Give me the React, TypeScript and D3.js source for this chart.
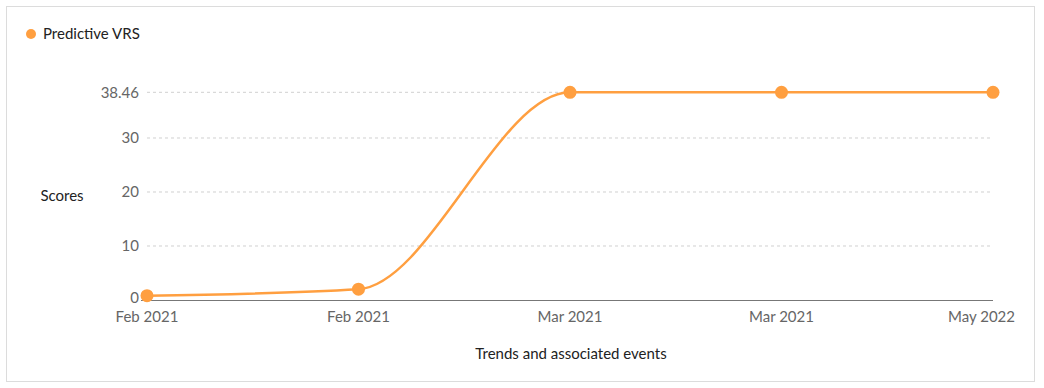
import React, { useEffect, useRef } from 'react';
import * as d3 from 'd3';

const labels = ['Feb 2021', 'Feb 2021', 'Mar 2021', 'Mar 2021', 'May 2022'];
const scores = [0.8, 2.0, 38.46, 38.46, 38.46];
const yTicks = [0, 10, 20, 30, 38.46];
const seriesName = 'Predictive VRS';

const ORANGE = '#ff9f40';

const App: React.FC = () => {
    const svgRef = useRef<SVGSVGElement>(null);

    useEffect(() => {
        if (!svgRef.current) return;
        const svg = d3.select(svgRef.current);
        svg.selectAll('*').remove();

        const width = 1044;
        const height = 388;
        const font = 'Lato, "Open Sans", sans-serif';

        // Card border
        svg.append('rect')
            .attr('x', 6.5).attr('y', 6.5)
            .attr('width', 1028).attr('height', 375)
            .attr('fill', '#fff')
            .attr('stroke', '#dcdcdc');

        const x = d3.scalePoint<number>()
            .domain(d3.range(labels.length))
            .range([147, 993]);
        const y = d3.scaleLinear().domain([0, 38.46]).range([300, 92.3]);

        // Gridlines
        svg.append('g')
            .selectAll('line')
            .data(yTicks.filter(t => t > 0))
            .join('line')
            .attr('x1', 147).attr('x2', 993)
            .attr('y1', d => y(d)).attr('y2', d => y(d))
            .attr('stroke', '#d0d0d0')
            .attr('stroke-dasharray', '3,3');

        // X axis line
        svg.append('line')
            .attr('x1', 141).attr('x2', 993)
            .attr('y1', y(0) + 0.5).attr('y2', y(0) + 0.5)
            .attr('stroke', '#777')
            .attr('stroke-width', 1.2);

        // Y tick labels
        svg.append('g')
            .selectAll('text')
            .data(yTicks)
            .join('text')
            .attr('x', 139)
            .attr('y', d => y(d) - (d === 0 ? 2 : 0))
            .attr('dy', '0.35em')
            .attr('text-anchor', 'end')
            .attr('fill', '#666')
            .style('font-family', font)
            .style('font-size', '15px')
            .text(d => String(d));

        // X tick labels (last one kept inside the card)
        const last = labels.length - 1;
        svg.append('g')
            .selectAll('text')
            .data(labels)
            .join('text')
            .attr('x', (_, i) => (i === last ? 1015 : x(i)!))
            .attr('y', 322)
            .attr('text-anchor', (_, i) => (i === last ? 'end' : 'middle'))
            .attr('fill', '#666')
            .style('font-family', font)
            .style('font-size', '15px')
            .text(d => d);

        // Axis titles
        svg.append('text')
            .attr('x', 62).attr('y', 201)
            .attr('text-anchor', 'middle')
            .attr('fill', '#222')
            .style('font-family', font)
            .style('font-size', '15px')
            .text('Scores');
        svg.append('text')
            .attr('x', 571).attr('y', 359)
            .attr('text-anchor', 'middle')
            .attr('fill', '#222')
            .style('font-family', font)
            .style('font-size', '15px')
            .text('Trends and associated events');

        // Legend
        svg.append('circle')
            .attr('cx', 31).attr('cy', 34).attr('r', 5)
            .attr('fill', ORANGE);
        svg.append('text')
            .attr('x', 43).attr('y', 34)
            .attr('dy', '0.35em')
            .attr('fill', '#222')
            .style('font-family', font)
            .style('font-size', '15px')
            .text(seriesName);

        // Line
        const line = d3.line<number>()
            .x((_, i) => x(i)!)
            .y(d => y(d))
            .curve(d3.curveMonotoneX);
        svg.append('path')
            .datum(scores)
            .attr('d', line)
            .attr('fill', 'none')
            .attr('stroke', ORANGE)
            .attr('stroke-width', 2.5);

        // Points
        svg.append('g')
            .selectAll('circle')
            .data(scores)
            .join('circle')
            .attr('cx', (_, i) => x(i)!)
            .attr('cy', d => y(d))
            .attr('r', 6.5)
            .attr('fill', ORANGE);

        svg.attr('width', width).attr('height', height);
    }, []);

    return (
        <div style={{ position: 'absolute', left: 0, top: 0 }}>
            <svg ref={svgRef} style={{ display: 'block' }} />
        </div>
    );
};

export default App;
